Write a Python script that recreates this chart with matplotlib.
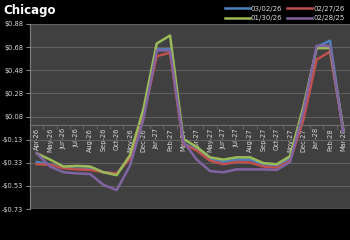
import numpy as np
import matplotlib.pyplot as plt

months = ['Apr-26', 'May-26', 'Jun-26', 'Jul-26', 'Aug-26', 'Sep-26', 'Oct-26', 'Nov-26',
          'Dec-26', 'Jan-27', 'Feb-27', 'Mar-27', 'Apr-27', 'May-27', 'Jun-27', 'Jul-27',
          'Aug-27', 'Sep-27', 'Oct-27', 'Nov-27', 'Dec-27', 'Jan-28', 'Feb-28', 'Mar-28']

s_030226 = [-0.32, -0.34, -0.37, -0.38, -0.38, -0.41, -0.42, -0.28, 0.10, 0.66, 0.66, -0.16,
            -0.21, -0.30, -0.32, -0.30, -0.30, -0.34, -0.35, -0.29, 0.12, 0.68, 0.735, -0.05]
s_022726 = [-0.34, -0.345, -0.375, -0.385, -0.39, -0.41, -0.42, -0.29, 0.08, 0.60, 0.63, -0.165,
            -0.22, -0.31, -0.34, -0.32, -0.325, -0.36, -0.37, -0.31, 0.045, 0.57, 0.64, -0.05]
s_013026 = [-0.245, -0.30, -0.36, -0.355, -0.36, -0.41, -0.435, -0.26, 0.14, 0.71, 0.78, -0.12,
            -0.19, -0.28, -0.30, -0.28, -0.28, -0.33, -0.34, -0.27, 0.16, 0.67, 0.67, -0.04]
s_022825 = [-0.245, -0.36, -0.41, -0.42, -0.425, -0.52, -0.565, -0.35, 0.05, 0.65, 0.65, -0.145,
            -0.30, -0.40, -0.41, -0.385, -0.385, -0.385, -0.39, -0.32, 0.12, 0.69, 0.69, -0.06]

y_ticks = np.linspace(0.88, -0.73, 9)
y_labels = ['$0.88', '$0.68', '$0.48', '$0.28', '$0.08', '-$0.13', '-$0.33', '-$0.53', '-$0.73']

fig = plt.figure(figsize=(3.5, 2.4), dpi=100, facecolor='black')
ax = fig.add_axes([0.086, 0.129, 0.914, 0.771])
ax.set_facecolor('#404040')

x = np.arange(len(months))
l1, = ax.plot(x, s_030226, color='#4F81BD', lw=1.8, label='03/02/26')
l2, = ax.plot(x, s_022726, color='#C0504D', lw=1.8, label='02/27/26')
l3, = ax.plot(x, s_013026, color='#9BBB59', lw=1.8, label='01/30/26')
l4, = ax.plot(x, s_022825, color='#8064A2', lw=1.8, label='02/28/25')

ax.set_xlim(-0.5, len(months) - 0.5)
ax.set_ylim(-0.73, 0.88)
ax.set_yticks(y_ticks, labels=y_labels)
ax.yaxis.grid(True, color='#606060', lw=0.8)
ax.set_axisbelow(True)

# category axis sits at zero
ax.spines['bottom'].set_position(('data', 0))
ax.spines['bottom'].set_color('#707070')
for s in ['top', 'right']:
    ax.spines[s].set_visible(False)
ax.spines['left'].set_color('#808080')
ax.set_xticks(x, labels=months, rotation=90)
ax.set_xticks(np.arange(-0.5, len(months)), minor=True)
ax.tick_params(axis='x', which='major', length=0, labelsize=4.8, colors='#d8d8d8', pad=2)
ax.tick_params(axis='x', which='minor', length=3, color='#707070')
ax.tick_params(axis='y', length=3, labelsize=4.8, colors='#d8d8d8', color='#808080', pad=2)
ax.axhline(-0.73, color='#808080', lw=1)

fig.text(0.01, 0.955, 'Chicago', color='white', fontsize=8.5, fontweight='bold', va='center')
fig.legend(handles=[l1, l3, l2, l4], loc='upper right', bbox_to_anchor=(1.0, 1.0), ncol=2,
           frameon=False, fontsize=5, labelcolor='#d8d8d8', handlelength=3.6,
           columnspacing=0.6, handletextpad=0.2, labelspacing=0.5, borderpad=0.3)

fig.savefig('out.png', dpi=100, facecolor='black')
